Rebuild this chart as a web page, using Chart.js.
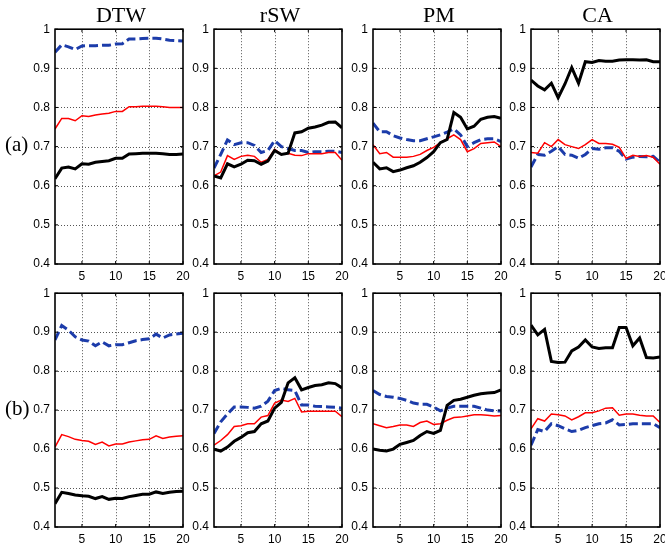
<!DOCTYPE html>
<html>
<head>
<meta charset="utf-8">
<script src="https://cdn.jsdelivr.net/npm/chart.js@4"></script>
<style>
  html, body { margin:0; padding:0; background:#fff; }
  body { width:665px; height:543px; position:relative; overflow:hidden; }
  .pan { position:absolute; }
  .title { position:absolute; font-family:"Liberation Serif", "Times New Roman", serif; font-size:22px; line-height:22px; color:#000; text-align:center; width:140px; }
  .row { position:absolute; font-family:"Liberation Serif", "Times New Roman", serif; font-size:21px; line-height:21px; color:#000; }
</style>
</head>
<body>
<script>
// ---------- data ----------
const xs = [1,2,3,4,5,6,7,8,9,10,11,12,13,14,15,16,17,18,19,20];
const xTicks = [5, 10, 15, 20];
const yTicks = [0.4, 0.5, 0.6, 0.7, 0.8, 0.9, 1];
const columnTitles = ["DTW", "rSW", "PM", "CA"];
const rowLabels = ["(a)", "(b)"];

// row (a)
const dtwA_black = [0.618,0.645,0.648,0.643,0.656,0.655,0.660,0.662,0.664,0.670,0.670,0.681,0.682,0.683,0.683,0.683,0.682,0.680,0.680,0.681];
const dtwA_red   = [0.745,0.772,0.772,0.766,0.779,0.777,0.781,0.783,0.785,0.790,0.790,0.802,0.802,0.803,0.803,0.803,0.802,0.800,0.800,0.800];
const dtwA_blue  = [0.941,0.960,0.955,0.948,0.957,0.958,0.958,0.959,0.959,0.962,0.963,0.975,0.975,0.976,0.977,0.977,0.975,0.972,0.971,0.970];

const rswA_black = [0.625,0.620,0.656,0.648,0.655,0.665,0.664,0.655,0.663,0.690,0.680,0.683,0.735,0.738,0.747,0.750,0.755,0.762,0.763,0.748];
const rswA_red   = [0.625,0.635,0.677,0.667,0.675,0.678,0.675,0.660,0.667,0.693,0.680,0.683,0.678,0.677,0.682,0.682,0.682,0.685,0.685,0.665];
const rswA_blue  = [0.645,0.680,0.717,0.705,0.710,0.710,0.703,0.685,0.690,0.715,0.700,0.695,0.690,0.690,0.685,0.687,0.687,0.688,0.688,0.685];

const pmA_black  = [0.660,0.643,0.646,0.636,0.640,0.646,0.651,0.660,0.672,0.687,0.710,0.718,0.787,0.775,0.745,0.752,0.770,0.775,0.777,0.772];
const pmA_red    = [0.705,0.682,0.685,0.673,0.673,0.673,0.675,0.680,0.690,0.698,0.710,0.720,0.730,0.718,0.687,0.695,0.708,0.710,0.712,0.700];
const pmA_blue   = [0.760,0.738,0.738,0.728,0.722,0.718,0.715,0.715,0.720,0.725,0.730,0.737,0.745,0.730,0.700,0.710,0.718,0.720,0.720,0.713];

const caA_black  = [0.870,0.855,0.845,0.862,0.825,0.860,0.902,0.862,0.917,0.915,0.920,0.918,0.918,0.921,0.922,0.922,0.921,0.922,0.917,0.917];
const caA_red    = [0.685,0.683,0.710,0.700,0.718,0.705,0.700,0.695,0.705,0.718,0.708,0.708,0.706,0.698,0.670,0.678,0.675,0.677,0.673,0.655];
const caA_blue   = [0.648,0.680,0.678,0.688,0.700,0.680,0.678,0.670,0.680,0.695,0.693,0.697,0.697,0.688,0.668,0.673,0.675,0.674,0.675,0.660];

// row (b)
const dtwB_black = [0.460,0.489,0.486,0.482,0.480,0.479,0.473,0.478,0.471,0.474,0.473,0.478,0.481,0.484,0.484,0.490,0.486,0.489,0.491,0.492];
const dtwB_red   = [0.605,0.637,0.632,0.625,0.622,0.620,0.612,0.618,0.608,0.613,0.613,0.618,0.621,0.624,0.625,0.634,0.627,0.631,0.633,0.634];
const dtwB_blue  = [0.880,0.917,0.905,0.888,0.880,0.877,0.865,0.875,0.865,0.868,0.868,0.873,0.878,0.881,0.883,0.895,0.885,0.893,0.895,0.897];

const rswB_black = [0.600,0.595,0.605,0.620,0.630,0.642,0.645,0.665,0.672,0.705,0.720,0.770,0.783,0.752,0.758,0.763,0.765,0.770,0.768,0.757];
const rswB_red   = [0.610,0.622,0.637,0.658,0.660,0.665,0.665,0.682,0.686,0.718,0.726,0.722,0.730,0.695,0.697,0.697,0.697,0.697,0.697,0.683];
const rswB_blue  = [0.640,0.670,0.690,0.708,0.708,0.707,0.705,0.710,0.723,0.750,0.756,0.752,0.750,0.713,0.713,0.710,0.709,0.708,0.707,0.705];

const pmB_black  = [0.600,0.597,0.595,0.600,0.612,0.617,0.622,0.635,0.645,0.640,0.648,0.712,0.725,0.728,0.733,0.738,0.742,0.744,0.745,0.752];
const pmB_red    = [0.665,0.660,0.655,0.658,0.662,0.662,0.658,0.668,0.672,0.663,0.665,0.674,0.681,0.682,0.685,0.688,0.688,0.687,0.685,0.686];
const pmB_blue   = [0.750,0.740,0.735,0.733,0.730,0.725,0.718,0.715,0.715,0.708,0.698,0.705,0.710,0.710,0.710,0.710,0.705,0.700,0.698,0.698];

const caB_black  = [0.918,0.893,0.907,0.825,0.822,0.823,0.852,0.862,0.880,0.862,0.858,0.860,0.860,0.912,0.912,0.865,0.885,0.835,0.834,0.836];
const caB_red    = [0.652,0.678,0.672,0.690,0.688,0.685,0.675,0.683,0.693,0.693,0.698,0.705,0.706,0.687,0.690,0.690,0.687,0.685,0.685,0.668];
const caB_blue   = [0.610,0.650,0.645,0.665,0.660,0.652,0.645,0.648,0.655,0.660,0.665,0.667,0.675,0.662,0.663,0.665,0.665,0.665,0.665,0.655];

const panels = [
  [[dtwA_black, dtwA_red, dtwA_blue], [rswA_black, rswA_red, rswA_blue], [pmA_black, pmA_red, pmA_blue], [caA_black, caA_red, caA_blue]],
  [[dtwB_black, dtwB_red, dtwB_blue], [rswB_black, rswB_red, rswB_blue], [pmB_black, pmB_red, pmB_blue], [caB_black, caB_red, caB_blue]]
];

// ---------- layout ----------
const colLeft = [55, 214, 373, 531];
const colWidth = [128, 128, 128, 129];
const rowTop = [29, 293];
const rowHeight = [235, 234];
const PADL = 40, PADT = 12, PADR = 12, PADB = 26;

const gridPlugin = {
  id: 'dotgrid',
  beforeDatasetsDraw(chart) {
    const ctx = chart.ctx, a = chart.chartArea;
    const sx = chart.scales.x, sy = chart.scales.y;
    ctx.save();
    ctx.strokeStyle = '#555555';
    ctx.lineWidth = 1;
    ctx.setLineDash([1, 2]);
    ctx.beginPath();
    sx.ticks.forEach(t => {
      const px = Math.round(sx.getPixelForValue(t.value)) + 0.5;
      if (px <= a.left + 1 || px >= a.right - 1) return;
      ctx.moveTo(px, a.top); ctx.lineTo(px, a.bottom);
    });
    sy.ticks.forEach(t => {
      const py = Math.round(sy.getPixelForValue(t.value)) + 0.5;
      if (py <= a.top + 1 || py >= a.bottom - 1) return;
      ctx.moveTo(a.left, py); ctx.lineTo(a.right, py);
    });
    ctx.stroke();
    ctx.restore();
  }
};

const framePlugin = {
  id: 'frame',
  afterDraw(chart) {
    const ctx = chart.ctx, a = chart.chartArea;
    const sx = chart.scales.x, sy = chart.scales.y;
    ctx.save();
    ctx.strokeStyle = '#000';
    ctx.lineWidth = 1;
    const tl = 3;
    ctx.beginPath();
    sx.ticks.forEach(t => {
      const px = sx.getPixelForValue(t.value);
      ctx.moveTo(px, a.bottom); ctx.lineTo(px, a.bottom - tl);
      ctx.moveTo(px, a.top); ctx.lineTo(px, a.top + tl);
    });
    sy.ticks.forEach(t => {
      const py = sy.getPixelForValue(t.value);
      ctx.moveTo(a.left, py); ctx.lineTo(a.left + tl, py);
      ctx.moveTo(a.right, py); ctx.lineTo(a.right - tl, py);
    });
    ctx.stroke();
    ctx.lineWidth = 1.6;
    ctx.strokeRect(a.left, a.top, a.right - a.left, a.bottom - a.top);
    ctx.restore();
  }
};

function pts(arr) { return arr.map((v, i) => ({x: xs[i], y: v})); }

for (let r = 0; r < 2; r++) {
  for (let c = 0; c < 4; c++) {
    const w = colWidth[c] + PADL + PADR;
    const h = rowHeight[r] + PADT + PADB;
    const div = document.createElement('div');
    div.className = 'pan';
    div.style.left = (colLeft[c] - PADL) + 'px';
    div.style.top = (rowTop[r] - PADT) + 'px';
    div.style.width = w + 'px';
    div.style.height = h + 'px';
    const cv = document.createElement('canvas');
    cv.width = w; cv.height = h;
    cv.style.width = w + 'px'; cv.style.height = h + 'px';
    div.appendChild(cv);
    document.body.appendChild(div);
    const [blk, red, blu] = panels[r][c];
    new Chart(cv, {
      type: 'line',
      data: {
        datasets: [
          { data: pts(blk), borderColor: '#000000', borderWidth: 3, pointRadius: 0, tension: 0, fill: false },
          { data: pts(red), borderColor: '#ff0000', borderWidth: 1.5, pointRadius: 0, tension: 0, fill: false },
          { data: pts(blu), borderColor: '#1c3caa', borderWidth: 3, borderDash: [9, 4], pointRadius: 0, tension: 0, fill: false }
        ]
      },
      options: {
        responsive: false,
        animation: false,
        devicePixelRatio: 1,
        layout: { padding: { left: 0, top: PADT, right: PADR, bottom: 0 } },
        plugins: { legend: { display: false }, tooltip: { enabled: false } },
        scales: {
          x: {
            type: 'linear', min: 1, max: 20,
            afterBuildTicks: s => { s.ticks = xTicks.map(v => ({value: v})); },
            afterFit: s => { s.height = PADB; },
            ticks: { color: '#000', padding: 5, maxRotation: 0, font: { family: 'Liberation Sans', size: 12 }, callback: v => String(v) },
            grid: { display: false, drawTicks: false },
            border: { display: false }
          },
          y: {
            type: 'linear', min: 0.4, max: 1,
            afterBuildTicks: s => { s.ticks = yTicks.map(v => ({value: v})); },
            afterFit: s => { s.width = PADL; },
            ticks: { color: '#000', padding: 5, font: { family: 'Liberation Sans', size: 12 }, callback: v => (Math.abs(v - 1) < 1e-9 ? '1' : v.toFixed(1)) },
            grid: { display: false, drawTicks: false },
            border: { display: false }
          }
        }
      },
      plugins: [gridPlugin, framePlugin]
    });
  }
}

// titles
for (let c = 0; c < 4; c++) {
  const d = document.createElement('div');
  d.className = 'title';
  d.textContent = columnTitles[c];
  d.style.left = (colLeft[c] + colWidth[c] / 2 - 70 + 2) + 'px';
  d.style.top = '4px';
  document.body.appendChild(d);
}
// row labels
const rowLabelTop = [134, 398];
for (let r = 0; r < 2; r++) {
  const d = document.createElement('div');
  d.className = 'row';
  d.textContent = rowLabels[r];
  d.style.left = '5px';
  d.style.top = rowLabelTop[r] + 'px';
  document.body.appendChild(d);
}
</script>
</body>
</html>
